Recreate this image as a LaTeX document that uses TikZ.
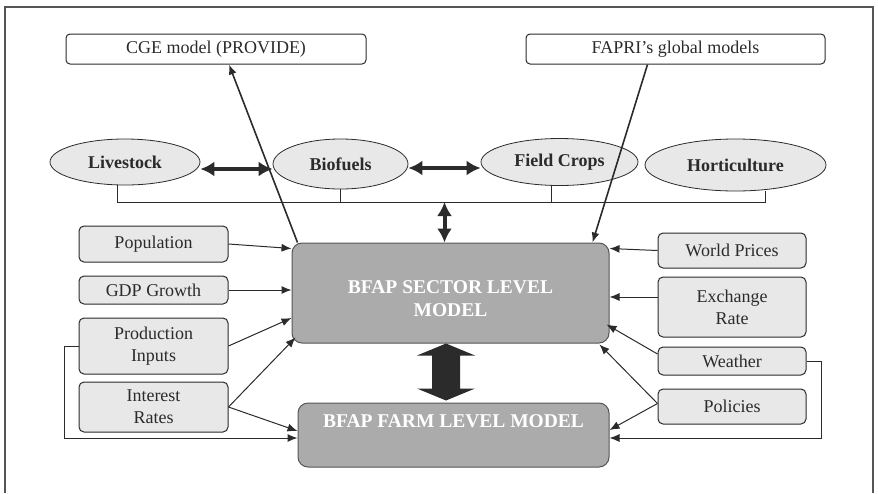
\documentclass[tikz,border=0pt]{standalone}
\usepackage{fontspec}
\setmainfont{Liberation Serif}
\usetikzlibrary{calc,shapes.geometric,arrows.meta}
\definecolor{boxgray}{HTML}{E8E8E8}
\definecolor{modelgray}{HTML}{ABABAB}
\definecolor{inkgray}{HTML}{2B2B2B}

\begin{document}
\begin{tikzpicture}[x=1pt, y=-1pt,
  every node/.style={font=\fontsize{18}{22}\selectfont, text=inkgray},
  source/.style={draw=inkgray, line width=1pt, rounded corners=4pt, fill=white,
    minimum height=30pt, inner sep=0pt},
  driver/.style={draw=inkgray, line width=1pt, rounded corners=5pt, fill=boxgray,
    minimum width=149pt, inner sep=0pt, align=center},
  branch/.style={draw=inkgray, ellipse, line width=0.8pt, fill=boxgray, inner sep=0pt,
    font=\fontsize{18}{22}\selectfont\bfseries},
  model/.style={draw=inkgray!80, line width=1pt, rounded corners=10pt, fill=modelgray,
    text=white, inner sep=0pt, align=center, font=\fontsize{19.5}{23}\selectfont\bfseries},
  feed/.style={-{Latex[length=10pt,width=8pt]}, line width=1pt, draw=inkgray},
  link/.style={{Latex[length=14pt,width=15pt]}-{Latex[length=14pt,width=15pt]},
    line width=4pt, draw=inkgray}
]
  \useasboundingbox (0,0) rectangle (878,493);
  \draw[inkgray!80, line width=1.5pt] (5,493) -- (5,7) -- (873,7) -- (873,493);

  \node[source, minimum width=300pt] (cge) at (216,49) {CGE model (PROVIDE)};
  \node[source, minimum width=299pt] (fapri) at (675.5,49) {FAPRI's global models};

  \node[branch, minimum width=150pt, minimum height=46pt] (live) at (125,162) {Livestock};
  \node[branch, minimum width=135pt, minimum height=50pt] (bio) at (340.5,164) {Biofuels};
  \node[branch, minimum width=157pt, minimum height=47pt] (crops) at (559.5,162) {Field Crops};
  \node[branch, minimum width=181pt, minimum height=52pt] (hort) at (735.5,165) {Horticulture};

  \node[model, minimum width=317pt, minimum height=100pt] (sector) at (450.5,293)
    {\rule{0pt}{24pt}BFAP SECTOR LEVEL\\MODEL};
  \node[model, minimum width=311pt, text height=24pt, text depth=40pt] (farm) at (453.5,435)
    {BFAP FARM LEVEL MODEL};

  \foreach \name/\y/\h/\txt in {pop/244/36/Population, gdp/290/28/GDP Growth,
      inputs/346/56/Production\\Inputs, rates/407/50/Interest\\Rates}
    \node[driver, minimum height=\h pt] (\name) at (153.5,\y) {\txt};
  \foreach \name/\y/\h/\txt in {prices/250.5/35/World Prices, xrate/307/60/Exchange\\Rate,
      weather/361/28/Weather, policy/406.5/35/Policies}
    \node[driver, minimum width=148pt, minimum height=\h pt] (\name) at (732,\y) {\txt};

  % sectors tied together
  \coordinate (bus) at (0,202);
  \draw[inkgray, line width=1pt] ([xshift=-8pt]live.south) |- ([xshift=30pt]hort.south |- bus)
    -- ([xshift=30pt]hort.south);
  \draw[inkgray, line width=1pt] (bio.south) -- (bio.south |- bus);
  \draw[inkgray, line width=1pt] ([xshift=-8pt]crops.south) -- ([xshift=-8pt]crops.south |- bus);
  \draw[link] ([yshift=-7pt]live.east) -- ([yshift=-5pt]bio.west);
  \draw[link] ([yshift=-4pt]bio.east) -- ([yshift=-6pt]crops.west);
  \coordinate (top) at ($(sector.north)+(-6,0)$);
  \draw[link] (bus -| top) -- (top);

  % global models
  \draw[feed, line width=1.6pt] ($(sector.north west)+(6,0)$) -- ($(cge.south)+(13,0)$);
  \draw[feed, line width=1.6pt] ($(fapri.south)+(-28,0)$) -- ($(sector.north east)+(-17,0)$);

  % drivers
  \draw[feed] (pop.east) -- ($(sector.north west)+(0,6)$);
  \draw[feed] (gdp.east) -- (sector.west |- gdp.east);
  \draw[feed] (inputs.east) -- ($(sector.west)+(0,25)$);
  \draw[feed] (rates.east) -- ($(sector.south west)+(4,-6)$);
  \draw[feed] (rates.east) -- ($(farm.west)+(0,-4)$);
  \draw[feed] (inputs.west) -- ++(-14,0) |- ($(farm.west)+(0,3)$);
  \draw[feed] (prices.west) -- ($(sector.north east)+(0,6)$);
  \draw[feed] ($(xrate.west)+(0,-10)$) coordinate (xr) -- (xr -| sector.east);
  \draw[feed] ($(weather.west)+(0,-7)$) -- ($(sector.south east)+(-3,-19)$);
  \draw[feed] ($(policy.west)+(0,-3)$) -- ($(sector.south east)+(-10,1)$);
  \draw[feed] ($(policy.west)+(0,-3)$) -- ($(farm.east)+(0,-5)$);
  \draw[feed] (weather.east) -- ++(15,0) |- ($(farm.east)+(0,3)$);

  % sector <-> farm
  \fill[inkgray] ($(sector.south)+(-4.5,0)$) -- ++(29,12) -- ++(-15,0) -- ++(0,33) -- ++(15,0)
    -- ++(-29,12) -- ++(-29,-12) -- ++(15,0) -- ++(0,-33) -- ++(-15,0) -- cycle;
\end{tikzpicture}
\end{document}
